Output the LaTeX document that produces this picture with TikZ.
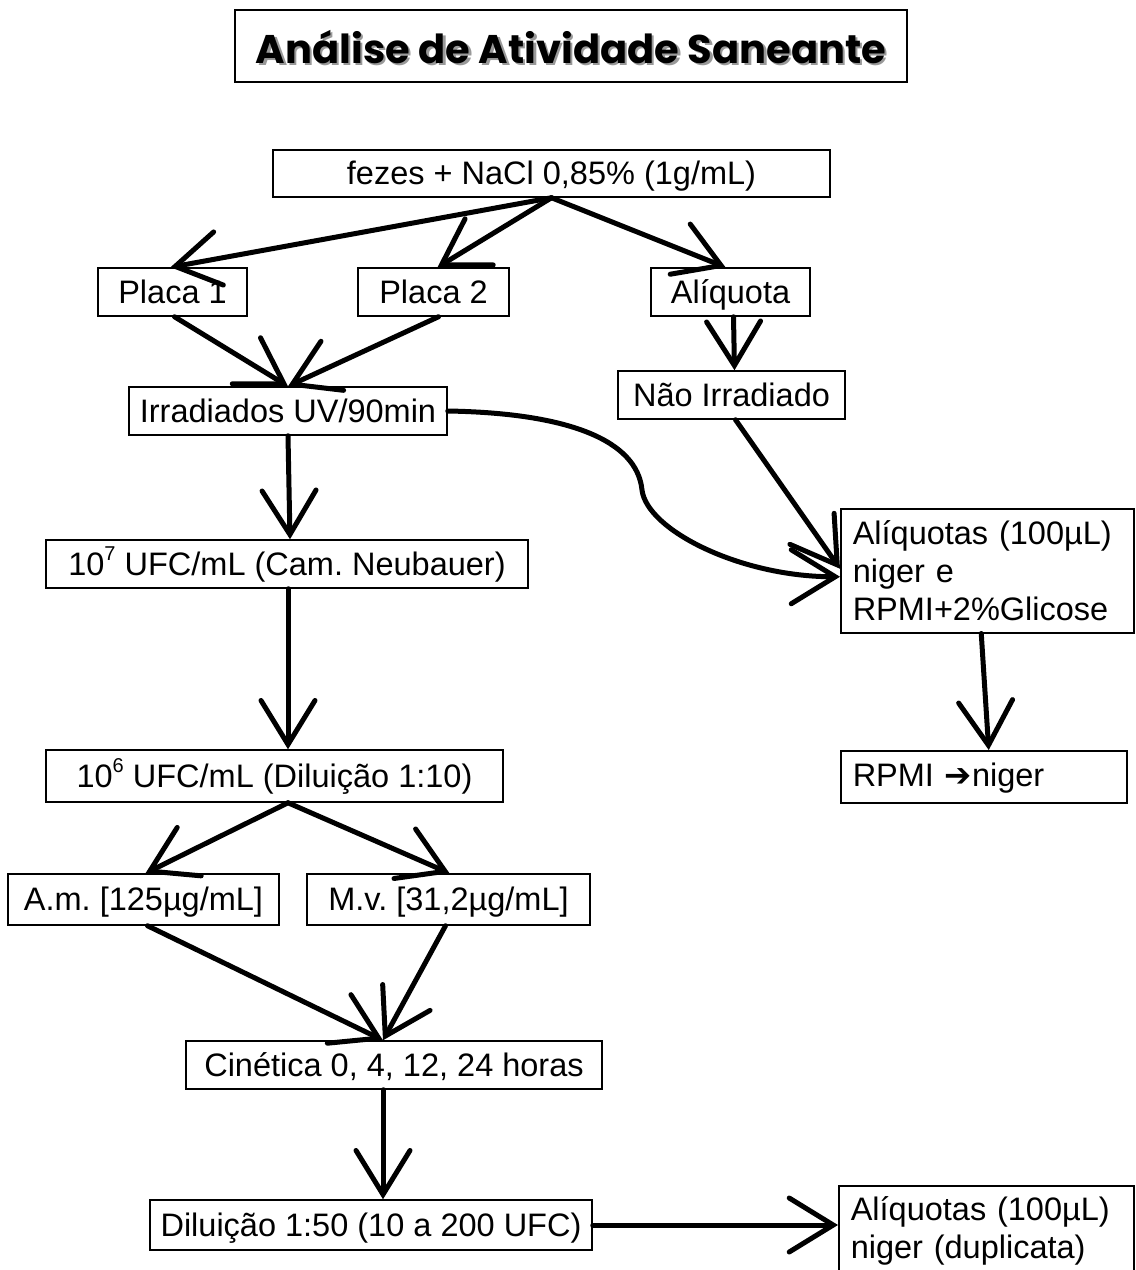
\documentclass[tikz,border=0pt]{standalone}
\usepackage{fontspec}
\setmainfont{Liberation Sans}
\newfontfamily\titlefont{Poppins}
\newfontfamily\symfont{DejaVu Sans}
\usetikzlibrary{arrows.meta}
\frenchspacing
\tikzset{
  box/.style={draw, line width=1.5pt, inner sep=0pt, text height=26pt, text depth=4pt,
    font=\fontsize{32.5}{38}\selectfont\frenchspacing},
  lbox/.style={draw, line width=1.5pt, font=\fontsize{32.5}{38}\selectfont\frenchspacing,
    align=left, inner sep=12pt, anchor=north west},
  arr/.style={line width=5pt, line cap=round, line join=round,
    -{Straight Barb[length=44pt,width=54pt,line cap=round]}},
  ttl/.style={inner sep=0pt}
}
\newcommand{\supx}[1]{\raisebox{0.45em}{\fontsize{20}{20}\selectfont #1}}
\begin{document}
\begin{tikzpicture}[x=1pt,y=-1pt]
\useasboundingbox (0,0) rectangle (1136,1270);
% title
\node[draw, line width=1.5pt, minimum width=672pt, minimum height=72pt] (title) at (571,46) {};
\node[ttl, text=black!40] (titleshadow) at (573.5,49.5) {\resizebox{630pt}{!}{\titlefont\bfseries Análise de Atividade Saneante}};
\node[ttl] (titletext) at (571,47) {\resizebox{630pt}{!}{\titlefont\bfseries Análise de Atividade Saneante}};
% boxes
\node[box, minimum width=557pt, minimum height=47pt] (fez) at (551.5,173.5) {fezes + NaCl 0,85\% (1g/mL)};
\node[box, minimum width=149pt, minimum height=48pt] (p1) at (172.5,292) {Placa 1};
\node[box, minimum width=151pt, minimum height=48pt] (p2) at (433.5,292) {Placa 2};
\node[box, minimum width=159pt, minimum height=48pt] (aliq) at (730.5,292) {Alíquota};
\node[box, minimum width=318pt, minimum height=48pt] (irr) at (288,411) {Irradiados UV/90min};
\node[box, minimum width=227pt, minimum height=48pt] (nirr) at (731.5,395) {Não Irradiado};
\node[box, minimum width=482pt, minimum height=48pt] (e7) at (287,564) {10\supx{7} UFC/mL (Cam. Neubauer)};
\node[lbox, text width=269pt, minimum height=124pt, inner ysep=6pt] (aliq100) at (840,508) {Alíquotas (100µL)\\niger e\\RPMI+2\%Glicose};
\node[lbox, text width=262pt, minimum height=52pt, inner ysep=0pt] (rpmi) at (840,750) {\rule{0pt}{26pt}\rule[-4pt]{0pt}{4pt}RPMI {\symfont ➔}niger};
\node[box, minimum width=457pt, minimum height=52pt] (e6) at (274.5,776) {10\supx{6} UFC/mL (Diluição 1:10)};
\node[box, minimum width=271pt, minimum height=51pt] (am) at (143.5,899.5) {A.m. [125µg/mL]};
\node[box, minimum width=283pt, minimum height=51pt] (mv) at (448.5,899.5) {M.v. [31,2µg/mL]};
\node[box, minimum width=416pt, minimum height=48pt] (cin) at (394,1065) {Cinética 0, 4, 12, 24 horas};
\node[box, minimum width=442pt, minimum height=50pt] (dil) at (371,1225) {Diluição 1:50 (10 a 200 UFC)};
\node[lbox, text width=271pt, minimum height=90pt, inner ysep=4pt] (dup) at (838,1185) {Alíquotas (100µL)\\niger (duplicata)};
% connectors
\coordinate (fzb) at (fez.south);
\draw[arr] (fzb) -- ([xshift=-2pt]p1.north);
\draw[arr] (fzb) -- ([xshift=4pt]p2.north);
\draw[arr] (fzb) -- ([xshift=-5pt]aliq.north);
\draw[arr] ([xshift=2pt]p1.south) -- (irr.north);
\draw[arr] ([xshift=5pt]p2.south) -- (irr.north);
\draw[arr] ([xshift=3pt]aliq.south) -- ([xshift=3pt]nirr.north);
\draw[arr] (irr.south) -- ([xshift=3pt]e7.north);
\draw[arr] (irr.east) .. controls +(120,2) and +(-5,-50) .. (642,490)
   .. controls +(5,40) and +(-100,0) .. ([yshift=-6pt]aliq100.west);
\draw[arr] ([xshift=4pt]nirr.south) -- ([yshift=2pt]aliq100.west);
\draw[arr] (e7.south -| irr.south) -- (e6.north -| irr.south);
\draw[arr] ([xshift=-6pt]aliq100.south) -- ([xshift=5pt]rpmi.north);
\draw[arr] (e6.south -| irr.south) -- ([xshift=2pt]am.north);
\draw[arr] (e6.south -| irr.south) -- ([xshift=1pt]mv.north);
\draw[arr] ([xshift=4pt]am.south) -- ([xshift=-11pt]cin.north);
\draw[arr] ([xshift=-3pt]mv.south) -- ([xshift=-11pt]cin.north);
\draw[arr] ([xshift=-11pt]cin.south) -- ([xshift=12pt]dil.north);
\draw[arr] (dil.east) -- (dup.west |- dil.east);
\end{tikzpicture}
\end{document}
